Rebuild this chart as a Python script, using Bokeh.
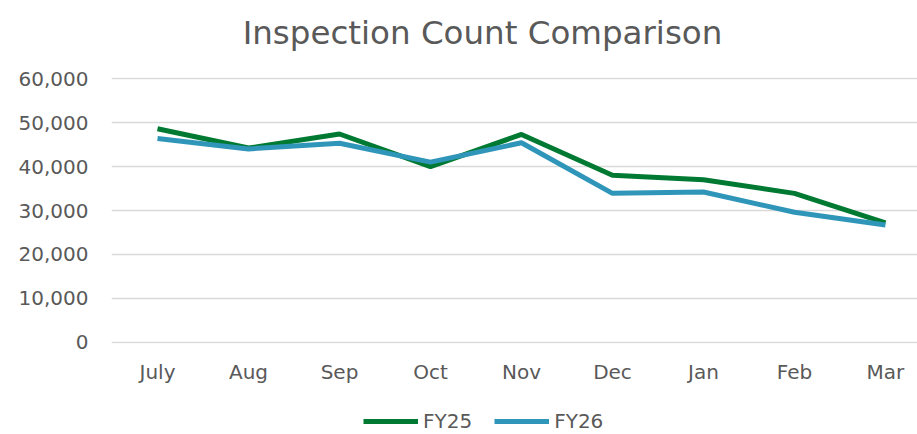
from bokeh.plotting import figure
from bokeh.layouts import column
from bokeh.models import Range1d, FixedTicker, Legend, LegendItem, NumeralTickFormatter, Label
from bokeh.embed import file_html
from bokeh.resources import INLINE

title_text = "Inspection Count Comparison"
months = ["July", "Aug", "Sep", "Oct", "Nov", "Dec", "Jan", "Feb", "Mar"]
fy25 = [48600, 44200, 47400, 40000, 47300, 38000, 37000, 33900, 27200]
fy26 = [46400, 44000, 45300, 41000, 45400, 33900, 34200, 29600, 26700]
y_ticks = [0, 10000, 20000, 30000, 40000, 50000, 60000]
series_names = ["FY25", "FY26"]

FONT = "DejaVu Sans"
TXT = "#595959"
GREEN = "#007A33"
BLUE = "#3096B9"
W = 917
LEFT = 111


def strip(h):
    f = figure(width=W, height=h, output_backend="svg", toolbar_location=None,
               x_range=Range1d(LEFT, W), y_range=Range1d(0, h),
               min_border_left=LEFT, min_border_right=0, min_border_top=0, min_border_bottom=0)
    f.axis.visible = False
    f.grid.visible = False
    f.outline_line_color = None
    return f


# title strip
tf = strip(60)
tf.add_layout(Label(x=482, y=28, text=title_text, text_align="center", text_baseline="alphabetic",
                    text_font=FONT, text_font_size="32.5px", text_color=TXT))

# main chart
xs = list(range(len(months)))
p = figure(width=W, height=326, output_backend="svg", toolbar_location=None,
           x_range=Range1d(-0.5055, 8.352), y_range=Range1d(-250, 60250),
           min_border_left=LEFT, min_border_right=0, min_border_top=17, min_border_bottom=43)

p.line(xs, fy25, line_color=GREEN, line_width=5)
p.line(xs, fy26, line_color=BLUE, line_width=5)

p.outline_line_color = None
p.xgrid.grid_line_color = None
p.ygrid.grid_line_color = "#D9D9D9"
p.ygrid.grid_line_width = 1.5

p.yaxis.ticker = FixedTicker(ticks=y_ticks)
p.yaxis.formatter = NumeralTickFormatter(format="0,0")
p.xaxis.ticker = FixedTicker(ticks=xs)
p.xaxis.major_label_overrides = {i: m for i, m in enumerate(months)}

for ax in (p.xaxis, p.yaxis):
    ax.axis_line_color = None
    ax.major_tick_line_color = None
    ax.minor_tick_line_color = None
    ax.major_tick_out = 0
    ax.major_tick_in = 0
    ax.minor_tick_out = 0
    ax.major_label_text_font = FONT
    ax.major_label_text_font_size = "20px"
    ax.major_label_text_color = TXT
p.yaxis.major_label_standoff = 23
p.xaxis.major_label_standoff = 16

# legend strip
lg = strip(48)
l1 = lg.line([0, 1], [-10, -10], line_color=GREEN, line_width=5)
l2 = lg.line([0, 1], [-10, -10], line_color=BLUE, line_width=5)
legend = Legend(items=[LegendItem(label=series_names[0], renderers=[l1]),
                       LegendItem(label=series_names[1], renderers=[l2])],
                orientation="horizontal", location=(252, 1),
                label_text_font=FONT, label_text_font_size="20px", label_text_color=TXT,
                glyph_width=55, glyph_height=18, label_standoff=5, spacing=22,
                border_line_color=None, background_fill_alpha=0, padding=0, margin=0)
lg.add_layout(legend, "center")

layout = column(tf, p, lg, spacing=0)
open("out.html", "w").write(file_html(layout, INLINE))
